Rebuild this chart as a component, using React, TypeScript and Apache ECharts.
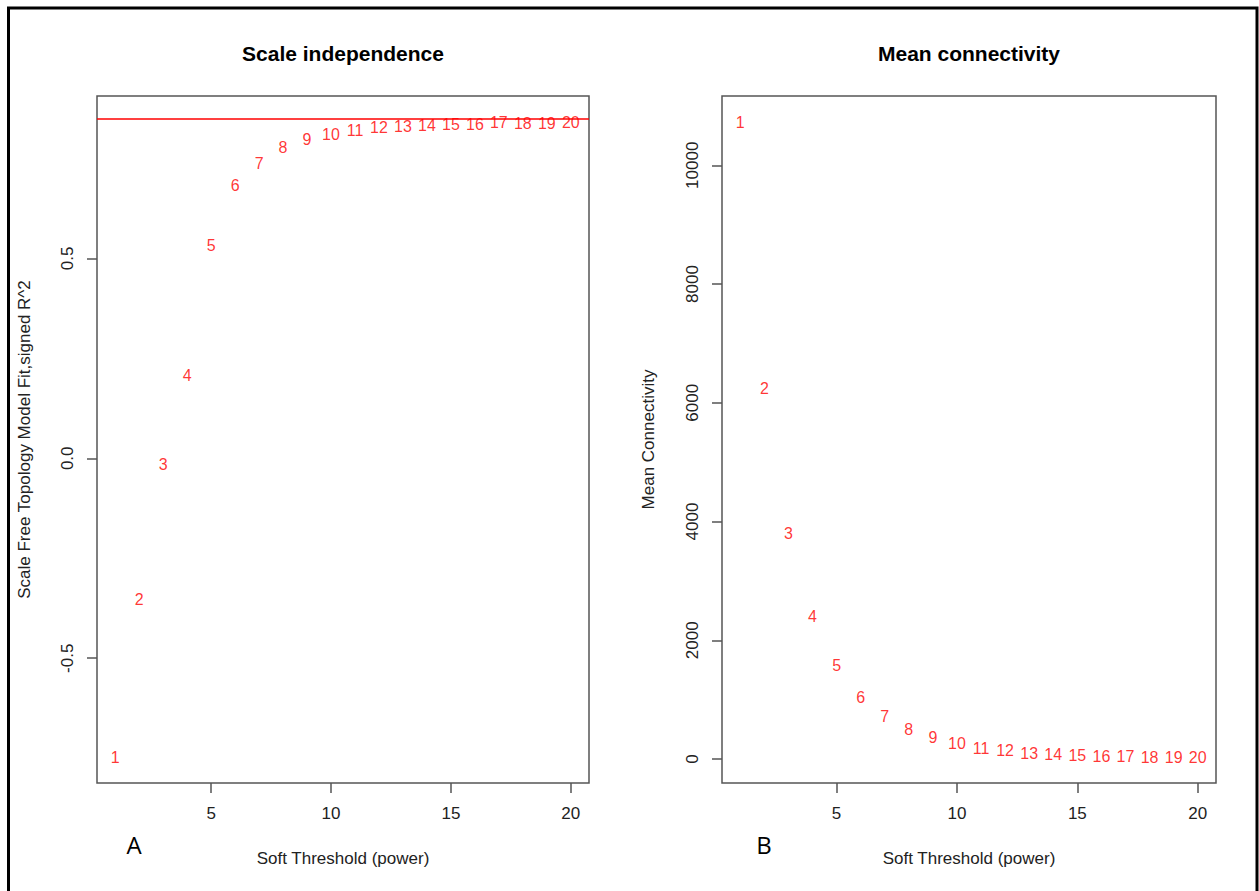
import React, { useEffect, useRef } from "react";
import * as echarts from "echarts";

const powers = [1, 2, 3, 4, 5, 6, 7, 8, 9, 10, 11, 12, 13, 14, 15, 16, 17, 18, 19, 20];
const scaleFitR2 = [
  -0.749, -0.354, -0.015, 0.206, 0.531, 0.681, 0.738, 0.776, 0.797, 0.81,
  0.819, 0.826, 0.829, 0.831, 0.834, 0.835, 0.839, 0.837, 0.836, 0.84,
];
const meanConnectivity = [
  10720, 6241, 3798, 2397, 1567, 1039, 719, 495, 360, 259,
  185, 141, 101, 76, 62, 48, 40, 33, 27, 24,
];
const r2Cutoff = 0.85;
const xTicks = [5, 10, 15, 20];
const leftYTicks = [-0.5, 0, 0.5];
const leftYTickLabels = ["-0.5", "0.0", "0.5"];
const rightYTicks = [0, 2000, 4000, 6000, 8000, 10000];
const titles = ["Scale independence", "Mean connectivity"];
const xName = "Soft Threshold (power)";
const yNames = ["Scale Free Topology Model Fit,signed R^2", "Mean Connectivity"];
const panelLetters = ["A", "B"];

const FONT = "'Liberation Sans', Arial, Helvetica, sans-serif";
const AXIS_COLOR = "#555";
const TEXT_COLOR = "#222";

export default function App() {
  const ref = useRef<HTMLDivElement>(null);

  useEffect(() => {
    if (!ref.current) return;
    const chart = echarts.init(ref.current, undefined, { renderer: "svg" });

    const gridBase = {
      show: true,
      borderColor: AXIS_COLOR,
      borderWidth: 1.5,
      backgroundColor: "transparent",
      top: 96,
      height: 687,
    };

    const xAxisBase = (gridIndex: number) => ({
      type: "value" as const,
      gridIndex,
      min: 0.24,
      max: 20.76,
      axisLine: { show: false, onZero: false },
      splitLine: { show: false },
      axisTick: {
        show: true,
        inside: false,
        length: 10,
        customValues: xTicks,
        lineStyle: { color: AXIS_COLOR, width: 1.5 },
      },
      axisLabel: {
        show: true,
        customValues: xTicks,
        margin: 22,
        fontSize: 17,
        fontFamily: FONT,
        color: TEXT_COLOR,
      },
    });

    const labelSeries = (xi: number, ys: number[]) => ({
      type: "scatter" as const,
      xAxisIndex: xi,
      yAxisIndex: xi,
      symbolSize: 1,
      itemStyle: { color: "rgba(0,0,0,0)" },
      data: powers.map((p, i) => [p, ys[i]]),
      label: {
        show: true,
        position: "inside" as const,
        formatter: (p: any) => String(p.value[0]),
        color: "#ff0000",
        fontSize: 16,
        fontFamily: FONT,
      },
      silent: true,
    });

    const option: any = {
      animation: false,
      backgroundColor: "#ffffff",
      grid: [
        { ...gridBase, left: 97, width: 492 },
        { ...gridBase, left: 722, width: 494 },
      ],
      xAxis: [xAxisBase(0), xAxisBase(1)],
      yAxis: [
        {
          type: "value",
          gridIndex: 0,
          min: -0.812,
          max: 0.906,
          axisLine: { show: false, onZero: false },
          splitLine: { show: false },
          axisTick: {
            show: true,
            inside: false,
            length: 10,
            customValues: leftYTicks,
            lineStyle: { color: AXIS_COLOR, width: 1.5 },
          },
          axisLabel: {
            show: true,
            customValues: leftYTicks,
            rotate: 90,
            margin: 21,
            fontSize: 17,
            fontFamily: FONT,
            color: TEXT_COLOR,
            formatter: (v: number) => {
              const idx = leftYTicks.findIndex((t) => Math.abs(t - v) < 1e-9);
              return idx >= 0 ? leftYTickLabels[idx] : String(v);
            },
          },
        },
        {
          type: "value",
          gridIndex: 1,
          min: -404,
          max: 11167,
          axisLine: { show: false, onZero: false },
          splitLine: { show: false },
          axisTick: {
            show: true,
            inside: false,
            length: 10,
            customValues: rightYTicks,
            lineStyle: { color: AXIS_COLOR, width: 1.5 },
          },
          axisLabel: {
            show: true,
            customValues: rightYTicks,
            rotate: 90,
            margin: 21,
            fontSize: 17,
            fontFamily: FONT,
            color: TEXT_COLOR,
            formatter: (v: number) => String(v),
          },
        },
      ],
      series: [
        {
          ...labelSeries(0, scaleFitR2),
          markLine: {
            silent: true,
            symbol: ["none", "none"],
            label: { show: false },
            lineStyle: { color: "#ff0000", type: "solid", width: 1.5 },
            data: [{ yAxis: r2Cutoff }],
          },
        },
        labelSeries(1, meanConnectivity),
      ],
      graphic: [
        {
          type: "rect",
          shape: { x: 8.5, y: 8, width: 1248.5, height: 910 },
          style: { fill: "none", stroke: "#000", lineWidth: 3 },
          silent: true,
        },
        {
          type: "text",
          x: 343,
          y: 53,
          style: {
            text: titles[0],
            align: "center",
            verticalAlign: "middle",
            font: `bold 21px ${FONT}`,
            fill: "#000",
          },
        },
        {
          type: "text",
          x: 969,
          y: 53,
          style: {
            text: titles[1],
            align: "center",
            verticalAlign: "middle",
            font: `bold 21px ${FONT}`,
            fill: "#000",
          },
        },
        {
          type: "text",
          x: 343,
          y: 858,
          style: {
            text: xName,
            align: "center",
            verticalAlign: "middle",
            font: `17px ${FONT}`,
            fill: TEXT_COLOR,
          },
        },
        {
          type: "text",
          x: 969,
          y: 858,
          style: {
            text: xName,
            align: "center",
            verticalAlign: "middle",
            font: `17px ${FONT}`,
            fill: TEXT_COLOR,
          },
        },
        {
          type: "text",
          x: 24,
          y: 439.5,
          rotation: Math.PI / 2,
          style: {
            text: yNames[0],
            align: "center",
            verticalAlign: "middle",
            font: `17px ${FONT}`,
            fill: TEXT_COLOR,
          },
        },
        {
          type: "text",
          x: 648,
          y: 439.5,
          rotation: Math.PI / 2,
          style: {
            text: yNames[1],
            align: "center",
            verticalAlign: "middle",
            font: `17px ${FONT}`,
            fill: TEXT_COLOR,
          },
        },
        {
          type: "text",
          x: 134,
          y: 844,
          style: {
            text: panelLetters[0],
            align: "center",
            verticalAlign: "middle",
            font: `24px 'Open Sans', ${FONT}`,
            fill: "#000",
          },
        },
        {
          type: "text",
          x: 764,
          y: 844,
          style: {
            text: panelLetters[1],
            align: "center",
            verticalAlign: "middle",
            font: `24px 'Open Sans', ${FONT}`,
            fill: "#000",
          },
        },
      ],
    };

    chart.setOption(option);
    return () => {
      chart.dispose();
    };
  }, []);

  return (
    <div
      ref={ref}
      style={{ position: "fixed", left: 0, top: 0, width: 1259, height: 891 }}
    />
  );
}
